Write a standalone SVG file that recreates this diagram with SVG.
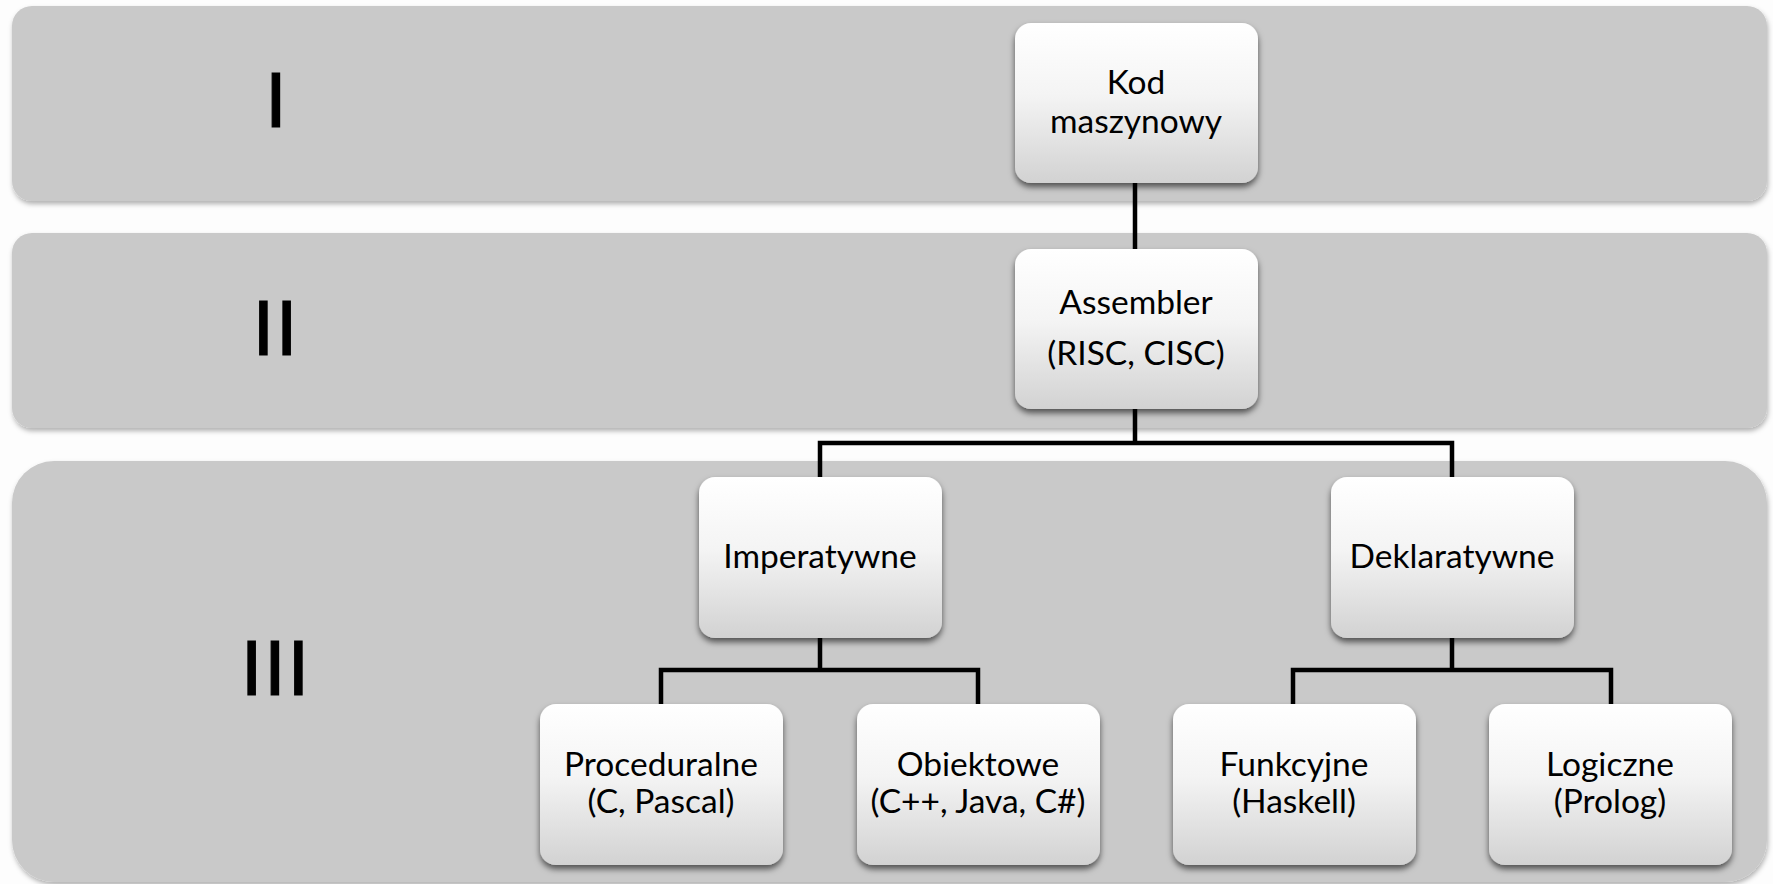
<svg xmlns="http://www.w3.org/2000/svg" width="1773" height="884" viewBox="0 0 1773 884">
  <style>
    .band { fill: #c9c9c9; filter: url(#bandShadow); }
    .box { fill: url(#boxGrad); filter: url(#boxShadow); }
    .lbl { font-family: Lato, "Liberation Sans", sans-serif; font-size: 33.5px; fill: #000; text-anchor: middle; }
    .roman { font-family: Lato, "Liberation Sans", sans-serif; font-size: 76px; fill: #000; text-anchor: middle; stroke: #000; stroke-width: 1.2; }
    .conn { fill: none; stroke: #000; stroke-width: 4.5; stroke-linejoin: miter; stroke-linecap: butt; }
  </style>
  <defs>
    <linearGradient id="boxGrad" x1="0" y1="0" x2="0" y2="1">
      <stop offset="0" stop-color="#ffffff"/>
      <stop offset="0.45" stop-color="#f4f4f4"/>
      <stop offset="1" stop-color="#d2d2d2"/>
    </linearGradient>
    <filter id="boxShadow" x="-10%" y="-10%" width="120%" height="125%">
      <feDropShadow dx="0" dy="4" stdDeviation="3" flood-color="#000" flood-opacity="0.6"/>
    </filter>
    <filter id="bandShadow" x="-2%" y="-5%" width="104%" height="115%">
      <feDropShadow dx="1" dy="3" stdDeviation="2.5" flood-color="#000" flood-opacity="0.3"/>
    </filter>
  </defs>
  <rect width="1773" height="884" fill="#fdfdfd"/>

  <g id="band-I">
    <rect class="band" x="12" y="6" width="1755" height="195" rx="20" ry="20"/>
    <text class="roman" x="276" y="127">I</text>
  </g>
  <g id="band-II">
    <rect class="band" x="12" y="233" width="1755" height="195" rx="20" ry="20"/>
    <text class="roman" x="276" y="355" letter-spacing="2">II</text>
  </g>
  <g id="band-III">
    <rect class="band" x="12" y="461" width="1755" height="421" rx="42" ry="42"/>
    <text class="roman" x="276" y="695" letter-spacing="2">III</text>
  </g>

  <g id="connectors">
    <path class="conn" d="M1135,183 V250"/>
    <path class="conn" d="M1135,408 V443 M820,477 V443 H1452 V477"/>
    <path class="conn" d="M820,638 V670 M661,704 V670 H978 V704"/>
    <path class="conn" d="M1452,638 V670 M1293,704 V670 H1611 V704"/>
  </g>

  <g id="node-kod">
    <rect class="box" x="1015" y="23" width="243" height="160" rx="16" ry="16"/>
    <text class="lbl" x="1136" y="94">Kod</text>
    <text class="lbl" x="1136" y="133">maszynowy</text>
  </g>
  <g id="node-assembler">
    <rect class="box" x="1015" y="249" width="243" height="160" rx="16" ry="16"/>
    <text class="lbl" x="1136" y="314">Assembler</text>
    <text class="lbl" x="1136" y="365">(RISC, CISC)</text>
  </g>
  <g id="node-imperatywne">
    <rect class="box" x="699" y="477" width="243" height="161" rx="16" ry="16"/>
    <text class="lbl" x="820" y="568">Imperatywne</text>
  </g>
  <g id="node-deklaratywne">
    <rect class="box" x="1331" y="477" width="243" height="161" rx="16" ry="16"/>
    <text class="lbl" x="1452" y="568">Deklaratywne</text>
  </g>
  <g id="node-proceduralne">
    <rect class="box" x="540" y="704" width="243" height="161" rx="16" ry="16"/>
    <text class="lbl" x="661" y="776">Proceduralne</text>
    <text class="lbl" x="661" y="813">(C, Pascal)</text>
  </g>
  <g id="node-obiektowe">
    <rect class="box" x="857" y="704" width="243" height="161" rx="16" ry="16"/>
    <text class="lbl" x="978" y="776">Obiektowe</text>
    <text class="lbl" x="978" y="813">(C++, Java, C#)</text>
  </g>
  <g id="node-funkcyjne">
    <rect class="box" x="1173" y="704" width="243" height="161" rx="16" ry="16"/>
    <text class="lbl" x="1294" y="776">Funkcyjne</text>
    <text class="lbl" x="1294" y="813">(Haskell)</text>
  </g>
  <g id="node-logiczne">
    <rect class="box" x="1489" y="704" width="243" height="161" rx="16" ry="16"/>
    <text class="lbl" x="1610" y="776">Logiczne</text>
    <text class="lbl" x="1610" y="813">(Prolog)</text>
  </g>
</svg>
